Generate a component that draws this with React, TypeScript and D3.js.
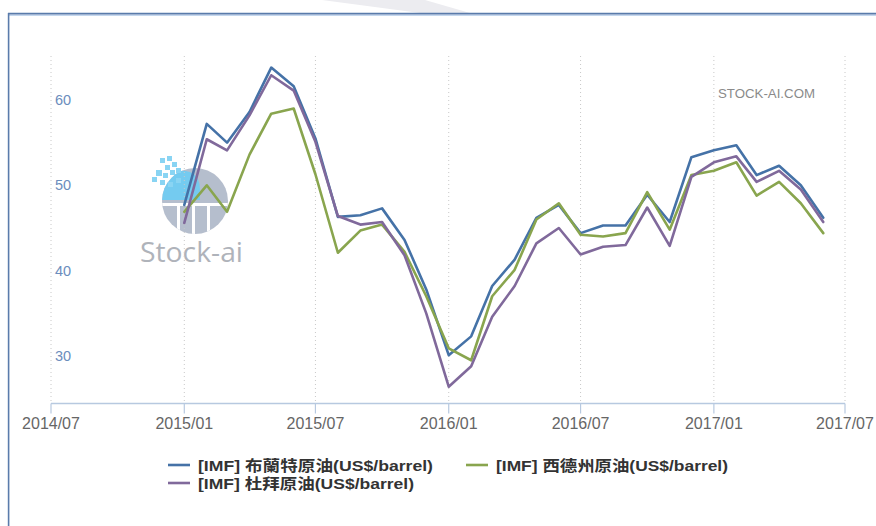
import React from "react";
import * as d3 from "d3";

const months = [
  "2015-01","2015-02","2015-03","2015-04","2015-05","2015-06","2015-07","2015-08","2015-09","2015-10","2015-11","2015-12",
  "2016-01","2016-02","2016-03","2016-04","2016-05","2016-06","2016-07","2016-08","2016-09","2016-10","2016-11","2016-12",
  "2017-01","2017-02","2017-03","2017-04","2017-05","2017-06",
];
const brent = [47.7, 57.2, 55.0, 58.6, 63.8, 61.6, 55.5, 46.3, 46.5, 47.3, 43.6, 37.8, 30.1, 32.3, 38.2, 41.3, 46.2, 47.7, 44.4, 45.3, 45.3, 48.9, 45.7, 53.3, 54.1, 54.7, 51.2, 52.3, 50.0, 46.2];
const wti = [46.9, 50.0, 46.9, 53.6, 58.4, 59.0, 51.3, 42.1, 44.7, 45.4, 42.2, 37.0, 30.9, 29.5, 37.0, 40.1, 46.0, 47.9, 44.2, 44.0, 44.4, 49.2, 44.8, 51.2, 51.7, 52.7, 48.8, 50.4, 47.9, 44.4];
const dubai = [45.6, 55.4, 54.1, 58.2, 62.9, 61.1, 55.1, 46.4, 45.4, 45.7, 41.8, 35.0, 26.4, 28.8, 34.6, 38.2, 43.2, 45.0, 41.9, 42.8, 43.0, 47.4, 42.9, 51.0, 52.7, 53.4, 50.4, 51.7, 49.5, 45.7];

const xTicks = ["2014-07","2015-01","2015-07","2016-01","2016-07","2017-01","2017-07"];
const xTickLabels = ["2014/07","2015/01","2015/07","2016/01","2016/07","2017/01","2017/07"];
const yTicks = [30, 40, 50, 60];

const seriesNames = [
  "[IMF] 布蘭特原油(US$/barrel)",
  "[IMF] 西德州原油(US$/barrel)",
  "[IMF] 杜拜原油(US$/barrel)",
];
const seriesColors = ["#4572a7", "#89a54e", "#80699b"];
const seriesData = [brent, wti, dubai];

const parse = d3.timeParse("%Y-%m");
const FONT = "'Liberation Sans', Arial, 'Noto Sans CJK TC', sans-serif";

export default function App() {
  const x = d3.scaleTime().domain([parse("2014-07")!, parse("2017-07")!]).range([51, 845]);
  const y = d3.scaleLinear().domain([30, 60]).range([356, 100]);
  const plotTop = 56;
  const plotBottom = 403.5;

  const line = d3
    .line<number>()
    .x((_, i) => x(parse(months[i])!))
    .y((d) => y(d));

  const legendPos = [
    { lx: 168, ty: 465, w: 235 },
    { lx: 466, ty: 465, w: 232 },
    { lx: 168, ty: 483, w: 216 },
  ];

  const squares = [
    [160, 158, 5], [167, 156, 5], [172, 162, 5], [165, 165, 5], [156, 170, 6],
    [163, 173, 5], [170, 170, 5], [176, 168, 5], [160, 180, 5], [168, 182, 5],
    [176, 178, 5], [152, 177, 5],
  ];

  return (
    <svg
      width={876}
      height={526}
      style={{ position: "absolute", left: 0, top: 0, background: "#fff" }}
      fontFamily={FONT}
    >
      <polygon points="322,0 425,0 470,13 420,13" fill="#ececf0" />
      <line x1={9} x2={876} y1={15.2} y2={15.2} stroke="#aac6e6" strokeWidth={1} />
      <line x1={8} x2={876} y1={13.6} y2={13.6} stroke="#5a7bab" strokeWidth={1.6} />
      <line x1={8.6} x2={8.6} y1={13} y2={526} stroke="#5a7bab" strokeWidth={1.6} />

      <g opacity={0.9}>
        <defs>
          <clipPath id="logoClip">
            <circle cx={195} cy={201} r={33} />
          </clipPath>
        </defs>
        <circle cx={195} cy={201} r={33} fill="#aeb7c8" />
        <g clipPath="url(#logoClip)">
          <path d="M160,200 L160,178 Q175,168 190,172 Q200,176 200,190 L200,200 Z" fill="#66c6ef" />
          <rect x={159} y={203} width={80} height={3} fill="#fff" />
          <rect x={177} y={206} width={3} height={30} fill="#fff" />
          <rect x={192} y={206} width={3} height={30} fill="#fff" />
          <rect x={207} y={206} width={3} height={30} fill="#fff" />
        </g>
        {squares.map(([sx, sy, s], i) => (
          <rect key={i} x={sx} y={sy} width={s} height={s} fill="#7dd0f2" />
        ))}
        <text x={140} y={262} fontSize={27} fill="#a7abb3" textLength={103} lengthAdjust="spacingAndGlyphs" fontFamily="'Open Sans', 'Liberation Sans', sans-serif">
          Stock-ai
        </text>
      </g>

      <text x={718} y={98} fontSize={12.5} fill="#8a8a8a" textLength={97} lengthAdjust="spacingAndGlyphs">
        STOCK-AI.COM
      </text>

      {xTicks.map((t) => (
        <line
          key={t}
          x1={x(parse(t)!)}
          x2={x(parse(t)!)}
          y1={plotTop}
          y2={plotBottom}
          stroke="#c8c8c8"
          strokeWidth={1}
          strokeDasharray="1,3"
        />
      ))}

      <line x1={51} x2={845} y1={plotBottom} y2={plotBottom} stroke="#b7c9e0" strokeWidth={1.5} />
      {xTicks.map((t, i) => (
        <g key={t}>
          <line x1={x(parse(t)!)} x2={x(parse(t)!)} y1={plotBottom} y2={plotBottom + 10} stroke="#b7c9e0" strokeWidth={1.2} />
          <text x={x(parse(t)!)} y={429} fontSize={16} fill="#666" textAnchor="middle">
            {xTickLabels[i]}
          </text>
        </g>
      ))}

      {yTicks.map((v) => (
        <text key={v} x={55} y={y(v) + 5} fontSize={14.5} fill="#6b8dbd">
          {v}
        </text>
      ))}

      {seriesData.map((s, i) => (
        <path
          key={i}
          d={line(s) || ""}
          fill="none"
          stroke={seriesColors[i]}
          strokeWidth={2.6}
          strokeLinejoin="round"
          strokeLinecap="round"
        />
      ))}

      {seriesNames.map((n, i) => (
        <g key={n}>
          <line x1={legendPos[i].lx} x2={legendPos[i].lx + 22} y1={legendPos[i].ty} y2={legendPos[i].ty} stroke={seriesColors[i]} strokeWidth={2.6} />
          <text
            x={legendPos[i].lx + 30}
            y={legendPos[i].ty + 5.5}
            fontSize={15}
            fontWeight="bold"
            fill="#333"
            textLength={legendPos[i].w}
            lengthAdjust="spacingAndGlyphs"
          >
            {n}
          </text>
        </g>
      ))}
    </svg>
  );
}
